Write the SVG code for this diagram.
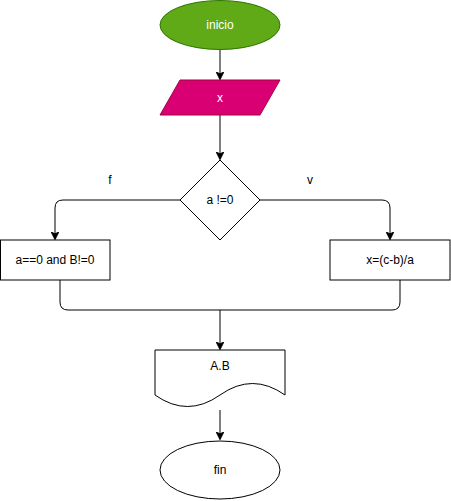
<svg xmlns="http://www.w3.org/2000/svg" width="451" height="501" viewBox="0 0 451 501">
<style>
text{font-family:"Liberation Sans",Arial,sans-serif;font-size:12px;text-anchor:middle;dominant-baseline:central;fill:#000}
.w{fill:#fff}
.n{fill:#fff;stroke:#000;stroke-width:1}
.c{fill:none;stroke:#000;stroke-width:1}
</style>
<defs>
<marker id="a" viewBox="0 0 10 10" refX="9" refY="5" markerWidth="8" markerHeight="8" markerUnits="userSpaceOnUse" orient="auto">
<path d="M0,0 L10,5 L0,10 L2.5,5 Z" fill="#000" stroke="#000"/>
</marker>
</defs>
<rect width="451" height="501" fill="#fff"/>
<g id="connectors">
<path class="c" d="M220,50 V79" marker-end="url(#a)"/>
<path class="c" d="M220,115 V159" marker-end="url(#a)"/>
<path class="c" d="M180,200 H63 Q55,200 55,208 V239" marker-end="url(#a)"/>
<path class="c" d="M260,200 H382 Q390,200 390,208 V239" marker-end="url(#a)"/>
<path class="c" d="M60,280 V302 Q60,310 68,310 H392 Q400,310 400,302 V280"/>
<path class="c" d="M220,310 V349" marker-end="url(#a)"/>
<path class="c" d="M220,410 V439" marker-end="url(#a)"/>
<text x="110" y="180">f</text>
<text x="310" y="180">v</text>
</g>
<g id="inicio">
<ellipse cx="220" cy="25" rx="60" ry="24.5" fill="#60a917" stroke="#2d7600"/>
<text class="w" x="220" y="25">inicio</text>
</g>
<g id="x">
<polygon points="180,80 280,80 260,115 160,115" fill="#d80073" stroke="#a50040"/>
<text class="w" x="220" y="98">x</text>
</g>
<g id="decision">
<polygon class="n" points="220,160 260,200 220,240 180,200"/>
<text x="220" y="200">a !=0</text>
</g>
<g id="left">
<rect class="n" x="0.5" y="240" width="109.5" height="40"/>
<text x="55" y="260">a==0 and B!=0</text>
</g>
<g id="right">
<rect class="n" x="330" y="240" width="120" height="40"/>
<text x="390" y="260">x=(c-b)/a</text>
</g>
<g id="doc">
<path class="n" d="M155,350 H285 V395 Q252.5,372 220,395 Q187.5,418 155,395 Z"/>
<text x="220" y="366">A.B</text>
</g>
<g id="fin">
<ellipse class="n" cx="220" cy="470" rx="60" ry="29"/>
<text x="220" y="470">fin</text>
</g>
</svg>
